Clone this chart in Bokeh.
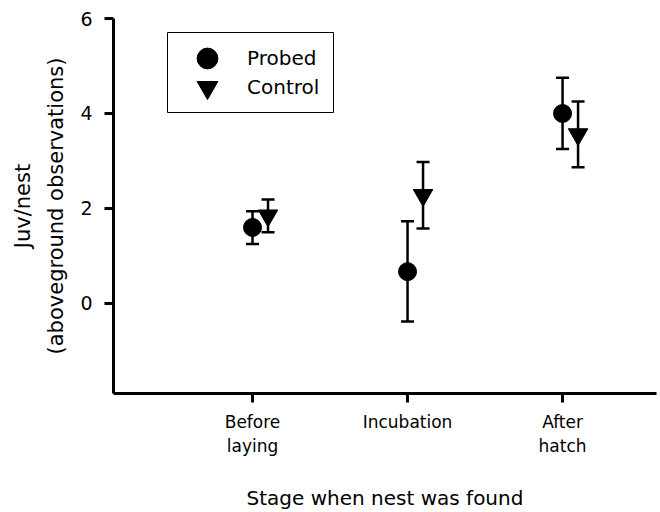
from bokeh.plotting import figure
from bokeh.models import (ColumnDataSource, Whisker, TeeHead, FixedTicker, Legend,
                          LegendItem, BoxAnnotation, Range1d)
from bokeh.embed import file_html
from bokeh.resources import INLINE

# ---- data ----
categories = ["Before\nlaying", "Incubation", "After\nhatch"]
probed_mean = [1.60, 0.67, 4.00]
probed_lower = [1.25, -0.38, 3.25]
probed_upper = [1.94, 1.73, 4.75]
control_mean = [1.85, 2.28, 3.56]
control_lower = [1.50, 1.58, 2.87]
control_upper = [2.19, 2.98, 4.25]
y_ticks = [0, 2, 4, 6]

FONT = "DejaVu Sans"
x_pos = list(range(1, len(categories) + 1))
ctrl_offset = 0.1
ctrl_pos = [x + ctrl_offset for x in x_pos]

probed_src = ColumnDataSource(dict(x=x_pos, y=probed_mean, lo=probed_lower, hi=probed_upper))
control_src = ColumnDataSource(dict(x=ctrl_pos, y=control_mean, lo=control_lower, hi=control_upper))

p = figure(width=658, height=512, output_backend="svg", toolbar_location=None,
           x_range=Range1d(0.1032, 3.606), y_range=Range1d(-1.896, 6),
           min_border_left=113, min_border_right=2, min_border_top=18, min_border_bottom=115)
p.outline_line_color = None
p.grid.visible = False
p.background_fill_color = "white"
p.border_fill_color = "white"

for src in (probed_src, control_src):
    w = Whisker(source=src, base="x", upper="hi", lower="lo", line_color="black", line_width=2.5,
                upper_head=TeeHead(size=13, line_width=2.5, line_color="black"),
                lower_head=TeeHead(size=13, line_width=2.5, line_color="black"))
    p.add_layout(w)

r_probed = p.scatter("x", "y", source=probed_src, marker="circle", size=18,
                     fill_color="black", line_color="black")
r_control = p.scatter("x", "y", source=control_src, marker="inverted_triangle", size=19.5,
                      fill_color="black", line_color="black")

# axes
for ax in (p.xaxis[0], p.yaxis[0]):
    ax.axis_line_width = 3
    ax.axis_line_color = "black"
    ax.major_tick_line_width = 3
    ax.major_tick_line_color = "black"
    ax.major_tick_out = 9
    ax.major_tick_in = 0
    ax.minor_tick_line_color = None
    ax.major_label_text_font = FONT
    ax.major_label_text_color = "black"
    ax.axis_label_text_font = FONT
    ax.axis_label_text_font_style = "normal"
    ax.axis_label_text_color = "black"

p.xaxis.ticker = FixedTicker(ticks=x_pos)
p.xaxis.major_label_overrides = {x: c for x, c in zip(x_pos, categories)}
p.xaxis.major_label_text_font_size = "17px"
p.xaxis.major_label_text_line_height = 1.2
p.xaxis.major_label_standoff = 9
p.xaxis.axis_label = "Stage when nest was found"
p.xaxis.axis_label_text_font_size = "20px"
p.xaxis.axis_label_standoff = 27

p.yaxis.ticker = FixedTicker(ticks=y_ticks)
p.yaxis.major_label_text_font_size = "19px"
p.yaxis.major_label_standoff = 12
p.yaxis.axis_label = "Juv/nest\n(aboveground observations)"
p.yaxis.axis_label_text_font_size = "21px"
p.yaxis.axis_label_text_line_height = 1.4
p.yaxis.axis_label_standoff = 9

# legend: one Legend per row so the glyphs can be large while rows stay close
common = dict(padding=0, margin=0, glyph_width=52, glyph_height=52, label_standoff=14,
              label_text_font=FONT, label_text_font_size="20px", label_text_color="black",
              border_line_alpha=0, background_fill_alpha=0)
leg1 = Legend(items=[LegendItem(label="Probed", renderers=[r_probed])], location=(68, 309), **common)
leg2 = Legend(items=[LegendItem(label="Control", renderers=[r_control])], location=(68, 280), **common)
p.add_layout(leg1, "center")
p.add_layout(leg2, "center")

box = BoxAnnotation(left=167, right=333, top=32, bottom=112,
                    left_units="canvas", right_units="canvas", top_units="canvas", bottom_units="canvas",
                    fill_alpha=0, line_color="black", line_width=1, line_alpha=1)
p.add_layout(box)

open("out.html", "w").write(file_html(p, INLINE))
